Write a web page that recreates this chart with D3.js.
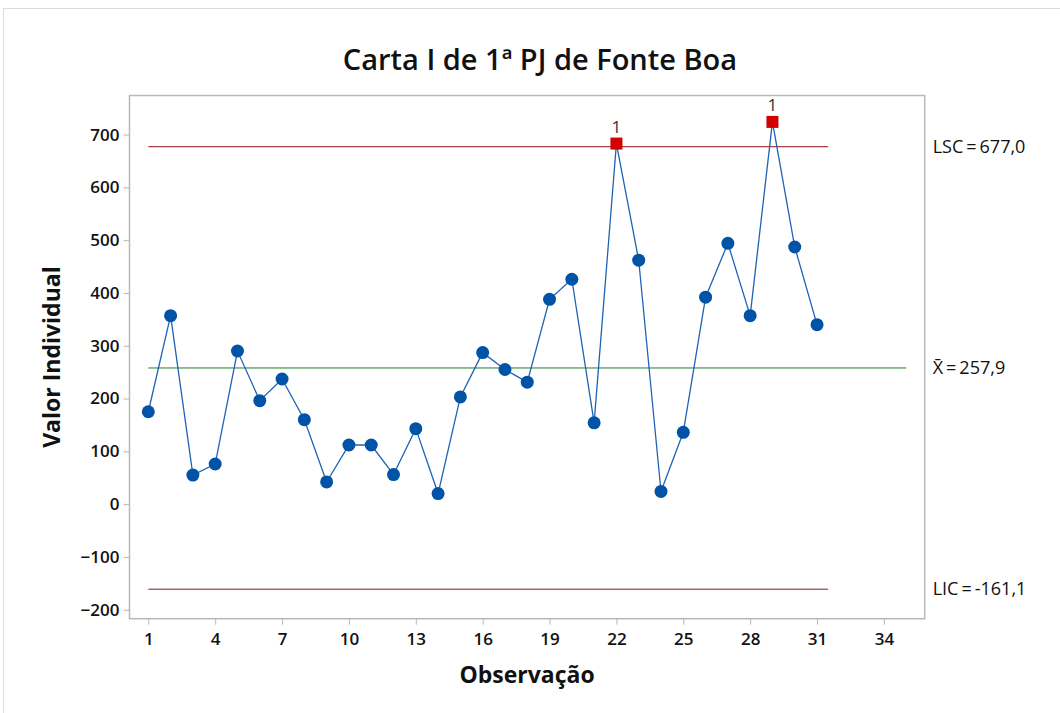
<!DOCTYPE html>
<html>
<head>
<meta charset="utf-8">
<script src="https://cdn.jsdelivr.net/npm/d3@7"></script>
<style>
  body { margin: 0; background: #fff; }
  svg text { font-family: "Open Sans", "Noto Sans", sans-serif; }
</style>
</head>
<body>
<div id="chart"></div>
<script>
const observations = d3.range(1, 32);
const values = [175, 357, 55, 76, 290, 196, 237, 160, 42, 112, 112, 56, 143, 20, 203,
  287, 255, 231, 388, 426, 154, 683, 462, 24, 136, 392, 494, 357, 724, 487, 340];
const xTicks = [1, 4, 7, 10, 13, 16, 19, 22, 25, 28, 31, 34];
const yTicks = [-200, -100, 0, 100, 200, 300, 400, 500, 600, 700];
const limits = { lsc: 677.0, center: 257.9, lic: -161.1 };

const W = 1060, H = 713;
const margin = { top: 95.5, right: 135.3, bottom: 94.3, left: 129.5 };
const width = W - margin.left - margin.right;
const height = H - margin.top - margin.bottom;

const svg = d3.select('#chart').append('svg')
  .attr('width', W)
  .attr('height', H);

// outer frame
svg.append('rect')
  .attr('x', 3.5).attr('y', 8.5)
  .attr('width', W).attr('height', H)
  .attr('fill', 'none').attr('stroke', '#dcdcdc');

const g = svg.append('g')
  .attr('transform', `translate(${margin.left},${margin.top})`);

const x = d3.scaleLinear().domain([0.156, 35.83]).range([0, width]);
const y = d3.scaleLinear().domain([-217, 774]).range([height, 0]);

// plot border
g.append('rect')
  .attr('width', width).attr('height', height)
  .attr('fill', 'none').attr('stroke', '#b8b8b8').attr('stroke-width', 1.5);

// axes
const xAxis = g.append('g')
  .attr('transform', `translate(0,${height})`)
  .call(d3.axisBottom(x).tickValues(xTicks).tickSize(6).tickPadding(8));
const yAxis = g.append('g')
  .call(d3.axisLeft(y).tickValues(yTicks).tickSize(6).tickPadding(4));
[xAxis, yAxis].forEach(a => {
  a.select('.domain').remove();
  a.selectAll('.tick line').attr('stroke', '#b8b8b8');
  a.selectAll('.tick text')
    .attr('fill', '#111')
    .attr('font-size', '17px')
    .attr('font-weight', 600);
});

// control lines
const ctrl = [
  { v: limits.lsc, x2: 31.5, color: '#8e1414' },
  { v: limits.center, x2: 35, color: '#1f7d2a' },
  { v: limits.lic, x2: 31.5, color: '#8e1414' },
];
g.selectAll('.ctrl')
  .data(ctrl)
  .join('line')
  .attr('x1', x(1)).attr('x2', d => x(d.x2))
  .attr('y1', d => y(d.v)).attr('y2', d => y(d.v))
  .attr('stroke', d => d.color).attr('stroke-width', 1);

// series line
const data = observations.map((o, i) => ({ o, v: values[i] }));
g.append('path')
  .datum(data)
  .attr('fill', 'none')
  .attr('stroke', '#1f63b5')
  .attr('stroke-width', 1.3)
  .attr('d', d3.line().x(d => x(d.o)).y(d => y(d.v)));

const inCtrl = data.filter(d => d.v <= limits.lsc && d.v >= limits.lic);
const outCtrl = data.filter(d => d.v > limits.lsc || d.v < limits.lic);

g.selectAll('.pt')
  .data(inCtrl)
  .join('circle')
  .attr('cx', d => x(d.o)).attr('cy', d => y(d.v))
  .attr('r', 6.5)
  .attr('fill', '#0053a6');

g.selectAll('.out')
  .data(outCtrl)
  .join('rect')
  .attr('x', d => x(d.o) - 6).attr('y', d => y(d.v) - 6)
  .attr('width', 12).attr('height', 12)
  .attr('fill', '#d40000');

g.selectAll('.outlbl')
  .data(outCtrl)
  .join('text')
  .attr('x', d => x(d.o)).attr('y', d => y(d.v) - 11)
  .attr('text-anchor', 'middle')
  .attr('font-size', '17px')
  .attr('fill', '#333')
  .text('1');

// right-side labels
const fmt = v => v.toFixed(1).replace('.', ',');
const rx = margin.left + width + 8;
const rightLabels = [
  { v: limits.lsc, t: 'LSC\u2009=\u2009' + fmt(limits.lsc) },
  { v: limits.center, t: 'X\u0304\u2009=\u2009' + fmt(limits.center) },
  { v: limits.lic, t: 'LIC\u2009=\u2009' + fmt(limits.lic) },
];
svg.selectAll('.rlbl')
  .data(rightLabels)
  .join('text')
  .attr('x', rx).attr('y', d => margin.top + y(d.v))
  .attr('dy', '0.35em').attr('font-size', '18px').attr('fill', '#111')
  .text(d => d.t);

// titles
svg.append('text')
  .attr('x', 540).attr('y', 70)
  .attr('text-anchor', 'middle')
  .attr('font-size', '29px').attr('font-weight', 600).attr('fill', '#111')
  .text('Carta I de 1ª PJ de Fonte Boa');

svg.append('text')
  .attr('x', margin.left + width / 2).attr('y', 683)
  .attr('text-anchor', 'middle')
  .attr('font-size', '23px').attr('font-weight', 700).attr('fill', '#111')
  .text('Observação');

svg.append('text')
  .attr('transform', `translate(60,${margin.top + height / 2}) rotate(-90)`)
  .attr('text-anchor', 'middle')
  .attr('font-size', '23px').attr('font-weight', 700).attr('fill', '#111')
  .text('Valor Individual');
</script>
</body>
</html>
